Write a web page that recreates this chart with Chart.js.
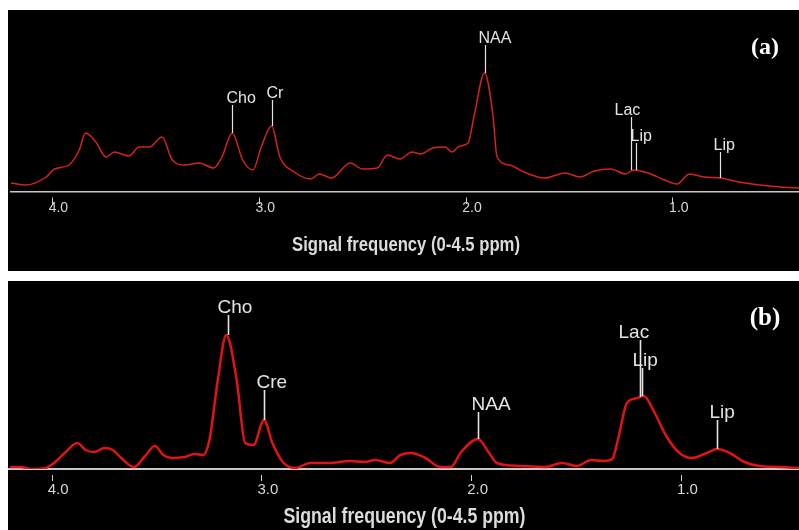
<!DOCTYPE html>
<html>
<head>
<meta charset="utf-8">
<script src="https://cdn.jsdelivr.net/npm/chart.js@4"></script>
<style>
  html, body { margin: 0; padding: 0; background: #fff; }
  body { width: 799px; height: 530px; position: relative; overflow: hidden; }
  .panel { position: absolute; left: 8px; width: 791px; background: #000; }
  #panelA { top: 10px; height: 261px; }
  #panelB { top: 281px; height: 249px; }
  canvas { display: block; }
</style>
</head>
<body>
<div class="panel" id="panelA"><canvas id="chartA" width="791" height="261"></canvas></div>
<div class="panel" id="panelB"><canvas id="chartB" width="791" height="249"></canvas></div>
<script>
// ── Shared axis ─────────────────────────────────────────────────
const tickPpm = [1, 2, 3, 4];
const axisTitle = 'Signal frequency (0-4.5 ppm)';

// ── Spectrum (a) ────────────────────────────────────────────────
const ppmA = [4.20, 4.13, 4.03, 3.99, 3.92, 3.87, 3.84, 3.79, 3.74, 3.70, 3.63, 3.58, 3.53, 3.47,
  3.42, 3.36, 3.29, 3.22, 3.18, 3.13, 3.08, 3.03, 2.99, 2.94, 2.90, 2.83, 2.75, 2.71, 2.65,
  2.56, 2.50, 2.43, 2.38, 2.32, 2.26, 2.22, 2.16, 2.10, 2.07, 2.03, 1.99, 1.96, 1.91, 1.87,
  1.85, 1.79, 1.71, 1.62, 1.52, 1.45, 1.38, 1.30, 1.23, 1.19, 1.12, 1.04, 0.98, 0.92, 0.85,
  0.77, 0.68, 0.58, 0.48, 0.39];
const signalA = [9, 7, 15, 23, 27, 42, 59, 50, 35, 40, 36, 45, 45, 55,
  32, 27, 29, 24, 35, 59, 32, 22, 45, 66, 35, 20, 13, 18, 14,
  29, 23, 24, 37, 33, 40, 38, 44, 45, 40, 46, 49, 77, 119, 77,
  35, 27, 19, 14, 19, 15, 21, 23, 18, 22, 19, 12, 8, 18, 15,
  14, 10, 7, 5, 4];
const peakNamesA = ['Cho', 'Cr', 'NAA', 'Lac', 'Lip', 'Lip'];
const peakPpmA = [3.13, 2.94, 1.91, 1.20, 1.18, 0.77];
const peakBaseA = [59, 66, 119, 22, 22, 14];
const peakTopA = [87, 92, 147, 75, 49, 40];

// ── Spectrum (b) ────────────────────────────────────────────────
const ppmB = [4.20, 4.15, 4.10, 4.03, 3.99, 3.94, 3.88, 3.84, 3.80, 3.75, 3.71, 3.67, 3.61, 3.56,
  3.51, 3.47, 3.43, 3.37, 3.32, 3.28, 3.25, 3.21, 3.17, 3.12, 3.08, 3.04, 2.99, 2.95, 2.90,
  2.84, 2.77, 2.68, 2.58, 2.51, 2.46, 2.39, 2.34, 2.29, 2.22, 2.15, 2.10, 2.05, 1.97, 1.92,
  1.88, 1.77, 1.65, 1.57, 1.50, 1.43, 1.37, 1.33, 1.30, 1.26, 1.21, 1.18, 1.13, 1.07, 1.01,
  0.95, 0.88, 0.83, 0.77, 0.70, 0.63, 0.53, 0.44];
const signalB = [2, 2, 0, 1, 6, 16, 26, 19, 17, 21, 19, 11, 2, 12,
  23, 14, 11, 12, 15, 14, 29, 89, 134, 89, 26, 24, 49, 26, 7,
  1, 6, 6, 8, 7, 9, 6, 14, 16, 11, 2, 2, 17, 30, 17,
  6, 3, 2, 6, 3, 9, 8, 10, 32, 66, 71, 73, 57, 32, 16,
  11, 16, 20, 16, 7, 3, 2, 1];
const peakNamesB = ['Cho', 'Cre', 'NAA', 'Lac', 'Lip', 'Lip'];
const peakPpmB = [3.16, 2.99, 1.97, 1.20, 1.19, 0.83];
const peakBaseB = [134, 49, 30, 72, 73, 20];
const peakTopB = [154, 79, 57, 129, 101, 49];

// ── Peak markers, panel tag and the narrow axis title ───────────
const peakMarkers = {
  id: 'peakMarkers',
  afterDatasetsDraw(chart, args, opts) {
    const { ctx, scales: { x, y } } = chart;
    ctx.save();
    ctx.strokeStyle = opts.color;
    ctx.fillStyle = opts.color;
    ctx.lineWidth = opts.lineWidth;
    ctx.font = opts.font;
    ctx.textAlign = 'left';
    ctx.textBaseline = 'alphabetic';
    opts.names.forEach((name, i) => {
      const px = Math.round(x.getPixelForValue(opts.ppm[i])) + 0.5;
      const yb = y.getPixelForValue(opts.base[i]);
      const yt = y.getPixelForValue(opts.top[i]);
      ctx.beginPath();
      ctx.moveTo(px, yb);
      ctx.lineTo(px, yt);
      ctx.stroke();
      ctx.fillText(name, px + opts.textDx[i], yt - 2);
    });
    // panel tag, top right corner
    ctx.font = opts.tagFont;
    ctx.fillStyle = '#fff';
    ctx.textAlign = 'center';
    ctx.textBaseline = 'middle';
    ctx.fillText(opts.tag, chart.width - 34, 38);

    // axis title in a condensed face: squeeze a bold sans to the wanted width
    ctx.font = opts.titleFont;
    ctx.fillStyle = '#dcdcdc';
    const w = ctx.measureText(axisTitle).width;
    ctx.translate((x.left + x.right) / 2 + 1, x.bottom - opts.titleLift);
    ctx.scale(opts.titleWidth / w, 1);
    ctx.fillText(axisTitle, 0, 0);
    ctx.restore();
  }
};

function makeSpectrum(canvasId, o) {
  return new Chart(document.getElementById(canvasId), {
    type: 'line',
    data: {
      datasets: [{
        data: o.ppm.map((p, i) => ({ x: p, y: o.signal[i] })),
        borderColor: o.lineColor,
        borderWidth: o.lineWidth,
        pointRadius: 0,
        cubicInterpolationMode: 'monotone',
        fill: false,
      }],
    },
    options: {
      responsive: false,
      devicePixelRatio: 1,
      animation: false,
      layout: { padding: { left: o.padLeft, right: 0, top: 0, bottom: 0 } },
      plugins: {
        legend: { display: false },
        tooltip: { enabled: false },
        peakMarkers: o.markers,
      },
      scales: {
        x: {
          type: 'linear',
          reverse: true,
          min: o.xMin,
          max: o.xMax,
          afterBuildTicks: s => { s.ticks = tickPpm.map(v => ({ value: v })); },
          afterFit: s => { s.height = o.axisHeight; },
          border: { display: true, color: '#c8c8c8', width: o.axisWidth },
          grid: {
            drawOnChartArea: false, drawTicks: true, tickLength: 12,
            tickColor: '#d0d0d0', tickWidth: 1, tickBorderDash: [0, 5, 7, 40],
          },
          ticks: {
            autoSkip: false, maxRotation: 0, padding: o.tickPad, labelOffset: 6,
            color: '#d8d8d8', font: { family: '"Liberation Sans", Arial, sans-serif', size: o.tickSize },
            callback: v => v.toFixed(1),
          },
          title: { display: false, text: axisTitle },
        },
        y: { display: false, min: 0, max: o.yMax },
      },
    },
    plugins: [peakMarkers],
  });
}

makeSpectrum('chartA', {
  ppm: ppmA, signal: signalA, lineColor: '#d42222', lineWidth: 1.5,
  padLeft: 3, xMin: 0.39, xMax: 4.2, yMax: 182, axisHeight: 79, axisWidth: 1.5,
  tickPad: -4, tickSize: 14,
  markers: {
    names: peakNamesA, ppm: peakPpmA, base: peakBaseA, top: peakTopA,
    textDx: [-6, -6, -7, -17, -6, -7],
    color: '#e4e4e4', lineWidth: 1.2, font: '16px "Liberation Sans", Arial, sans-serif',
    tag: '(a)', tagFont: 'bold 24px "Liberation Serif", "Times New Roman", serif',
    titleFont: 'bold 21px "Liberation Sans", Arial, sans-serif', titleWidth: 228, titleLift: 26,
  },
});

makeSpectrum('chartB', {
  ppm: ppmB, signal: signalB, lineColor: '#e01414', lineWidth: 2.5,
  padLeft: 0, xMin: 0.44, xMax: 4.21, yMax: 188, axisHeight: 61, axisWidth: 2,
  tickPad: 0, tickSize: 15,
  markers: {
    names: peakNamesB, ppm: peakPpmB, base: peakBaseB, top: peakTopB,
    textDx: [-11, -8, -7, -22, -10, -8],
    color: '#e4e4e4', lineWidth: 1.6, font: '19px "Liberation Sans", Arial, sans-serif',
    tag: '(b)', tagFont: 'bold 25px "Liberation Serif", "Times New Roman", serif',
    titleFont: 'bold 22px "Liberation Sans", Arial, sans-serif', titleWidth: 242, titleLift: 13,
  },
});
</script>
</body>
</html>
